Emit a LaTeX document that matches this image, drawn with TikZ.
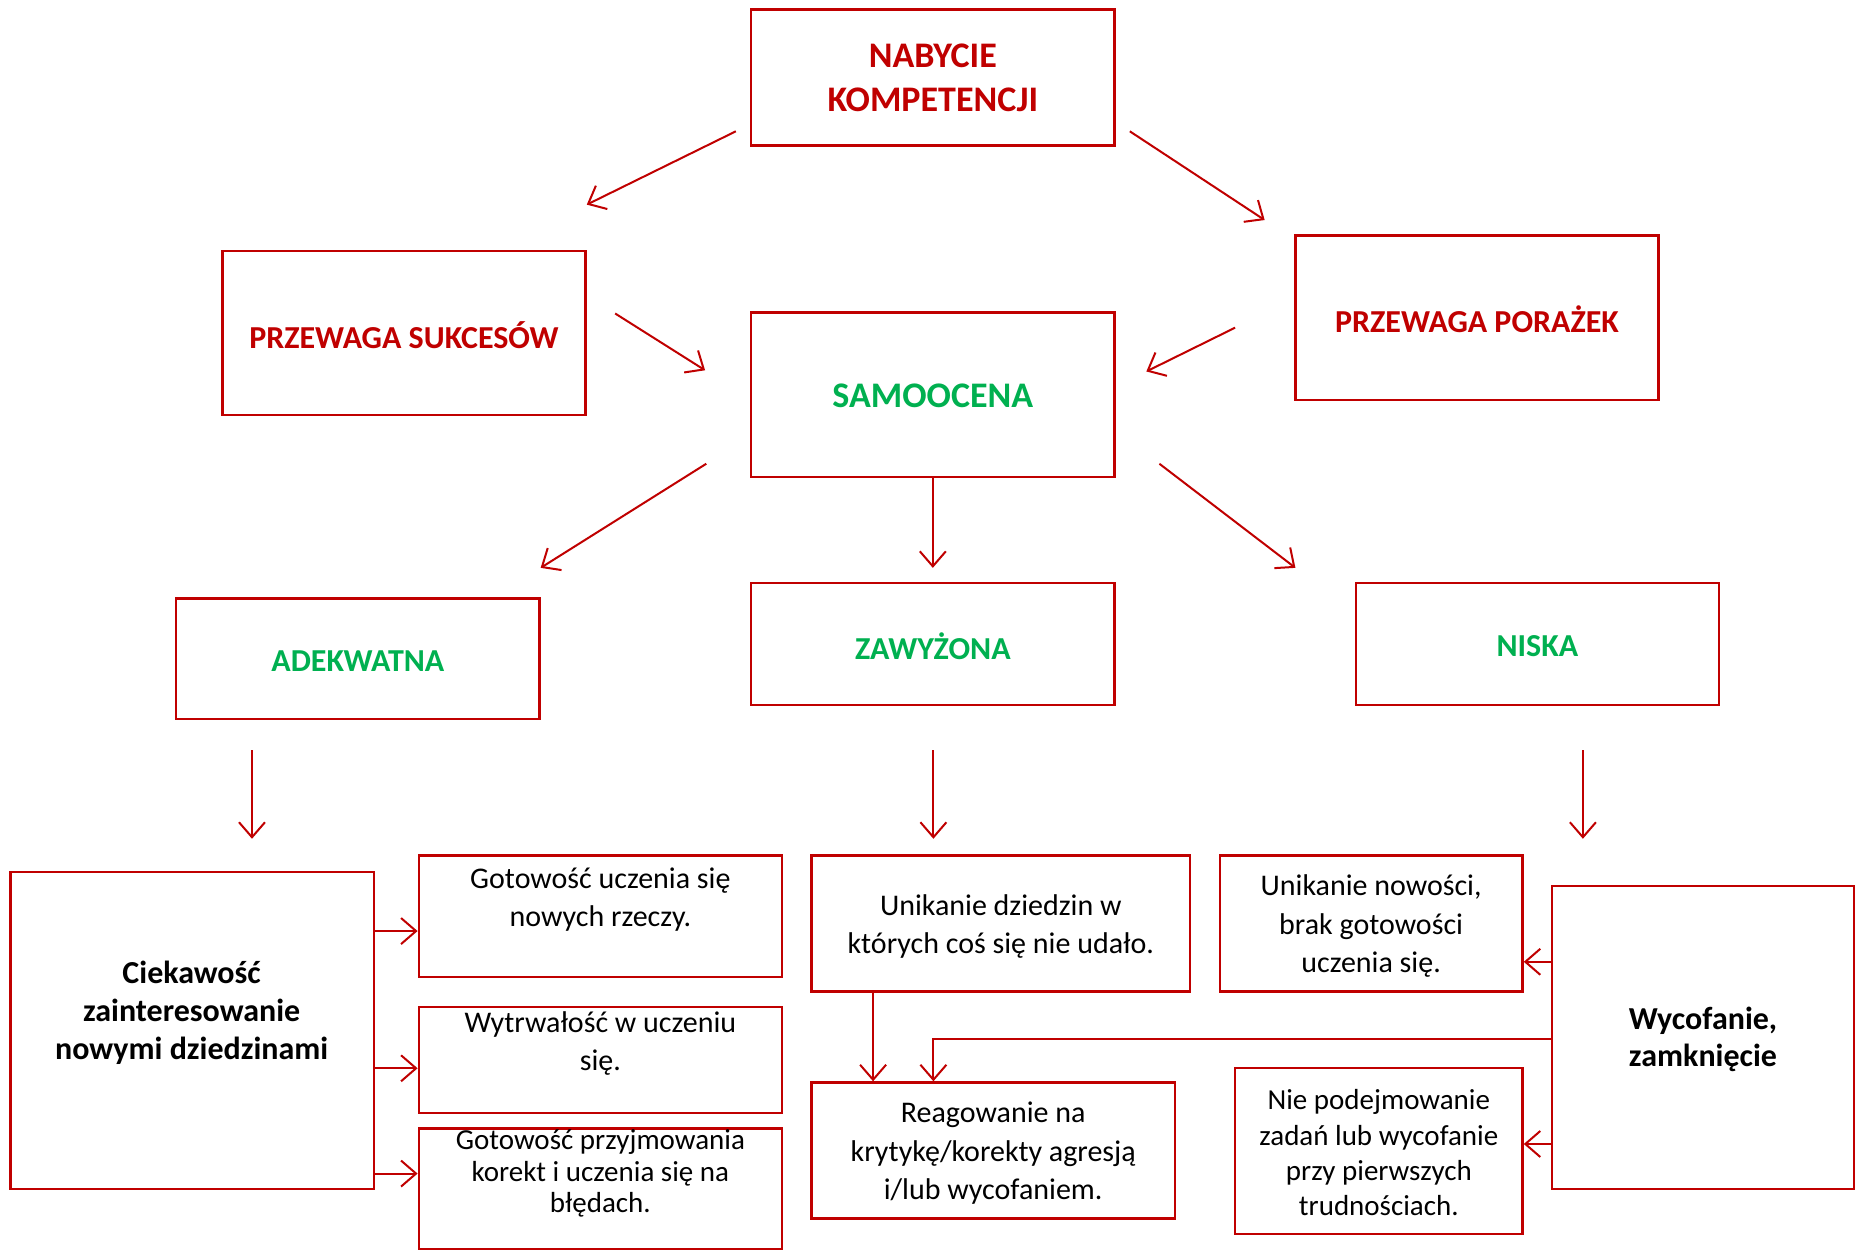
\documentclass[tikz,border=0pt]{standalone}
\usepackage{fontspec}
\setmainfont{Carlito}
\usetikzlibrary{arrows.meta,fit}
\definecolor{dred}{RGB}{192,0,0}
\definecolor{dgreen}{RGB}{0,176,80}
\begin{document}
\begin{tikzpicture}[x=0.5915pt,y=-0.5915pt,
  box/.style={draw=dred, line width=1.2pt, inner sep=0pt},
  arr/.style={draw=dred, line width=1pt, -{Straight Barb[length=7.5pt,width=13pt,line width=1pt]}},
  ttl/.style={font=\fontsize{18}{22}\selectfont\bfseries, text=dred, align=center},
  hdr/.style={font=\fontsize{16}{19}\selectfont\bfseries, text=dred, align=center},
  ghdr/.style={font=\fontsize{16}{19}\selectfont\bfseries, text=dgreen, align=center},
  gbig/.style={font=\fontsize{18}{22}\selectfont\bfseries, text=dgreen, align=center},
  txt/.style={font=\fontsize{15}{19.2}\selectfont, align=center},
  tight/.style={font=\fontsize{14.5}{15.7}\selectfont, align=center},
  small/.style={font=\fontsize{14.5}{17.7}\selectfont, align=center},
  bld/.style={font=\fontsize{16}{18.9}\selectfont\bfseries, align=center}]
\useasboundingbox[fill=white] (0,0) rectangle (1568,1060);

\node[box, fit={(635,8)(942,123)}] (nab) {};
\node[ttl] (nabtxt) at (788.5,66) {NABYCIE\\KOMPETENCJI};
\node[box, fit={(188,212)(495,351)}] (suk) {};
\node[hdr] (suktxt) at (341.5,283) {PRZEWAGA SUKCESÓW};
\node[box, fit={(1095,199)(1402,338)}] (por) {};
\node[hdr] (portxt) at (1248.5,269.5) {PRZEWAGA PORAŻEK};
\node[box, fit={(635,264)(942,403)}] (sam) {};
\node[gbig] (samtxt) at (788.5,334.5) {SAMOOCENA};
\node[box, fit={(149,506)(456,608)}] (ade) {};
\node[ghdr] (adetxt) at (302.5,558.5) {ADEKWATNA};
\node[box, fit={(635,493)(942,596)}] (zaw) {};
\node[ghdr] (zawtxt) at (788.5,546) {ZAWYŻONA};
\node[box, fit={(1146,493)(1453,596)}] (nis) {};
\node[ghdr] (nistxt) at (1299.5,546) {NISKA};

\node[box, fit={(9,737)(316,1005)}] (cie) {};
\node[bld] (cietxt) at (162,856) {Ciekawość\\zainteresowanie\\nowymi dziedzinami};
\node[box, fit={(354,723)(661,826)}] (got) {};
\node[txt] (gottxt) at (507.5,760.5) {Gotowość uczenia się\\nowych rzeczy.};
\node[box, fit={(354,851)(661,941)}] (wyt) {};
\node[txt] (wyttxt) at (507.5,882) {Wytrwałość w uczeniu\\się.};
\node[box, fit={(354,954)(661,1056)}] (kor) {};
\node[tight] (kortxt) at (507.5,992) {Gotowość przyjmowania\\korekt i uczenia się na\\błędach.};

\node[box, fit={(686,723)(1006,838)}] (unid) {};
\node[txt] (unidtxt) at (846,783) {Unikanie dziedzin w\\których coś się nie udało.};
\node[box, fit={(686,915)(993,1030)}] (rea) {};
\node[txt] (reatxt) at (839.5,975) {Reagowanie na\\krytykę/korekty agresją\\i/lub wycofaniem.};
\node[box, fit={(1031,723)(1287,838)}] (unin) {};
\node[txt] (unintxt) at (1159,783) {Unikanie nowości,\\brak gotowości\\uczenia się.};
\node[box, fit={(1044,903)(1287,1043)}] (niep) {};
\node[small] (nieptxt) at (1165.5,974.5) {Nie podejmowanie\\zadań lub wycofanie\\przy pierwszych\\trudnościach.};
\node[box, fit={(1312,749)(1567,1005)}] (wyc) {};
\node[bld] (wyctxt) at (1439.5,878.5) {Wycofanie,\\zamknięcie};

% floating arrows
\coordinate (a1s) at (622,111); \coordinate (a1e) at (496,173);
\coordinate (a2s) at (955,111); \coordinate (a2e) at (1069,186);
\coordinate (a3s) at (520,265); \coordinate (a3e) at (596,313);
\coordinate (a4s) at (1044,277); \coordinate (a4e) at (969,314);
\coordinate (a5s) at (597,392); \coordinate (a5e) at (457,480);
\coordinate (a6e) at (788.5,480);
\coordinate (a7s) at (980,392); \coordinate (a7e) at (1095,480);
\coordinate (b1s) at (213,634); \coordinate (b1e) at (213,709);
\coordinate (b2s) at (789,634); \coordinate (b2e) at (789,709);
\coordinate (b3s) at (1338,634); \coordinate (b3e) at (1338,709);
\coordinate (elb) at (789,878);

\draw[arr] (a1s) -- (a1e);
\draw[arr] (a2s) -- (a2e);
\draw[arr] (a3s) -- (a3e);
\draw[arr] (a4s) -- (a4e);
\draw[arr] (a5s) -- (a5e);
\draw[arr] (sam.south) -- (a6e);
\draw[arr] (a7s) -- (a7e);
\draw[arr] (b1s) -- (b1e);
\draw[arr] (b2s) -- (b2e);
\draw[arr] (b3s) -- (b3e);

\draw[arr] (cie.east |- 0,787) -- (got.west |- 0,787);
\draw[arr] (cie.east |- 0,903) -- (wyt.west |- 0,903);
\draw[arr] (cie.east |- 0,992) -- (kor.west |- 0,992);
\draw[arr] (738,0 |- unid.south) -- (738,0 |- rea.north);
\draw[arr] (wyc.west |- elb) -- (elb) -- (elb |- rea.north);
\draw[arr] (wyc.west |- 0,813) -- (unin.east |- 0,813);
\draw[arr] (wyc.west |- 0,967) -- (niep.east |- 0,967);
\end{tikzpicture}
\end{document}
